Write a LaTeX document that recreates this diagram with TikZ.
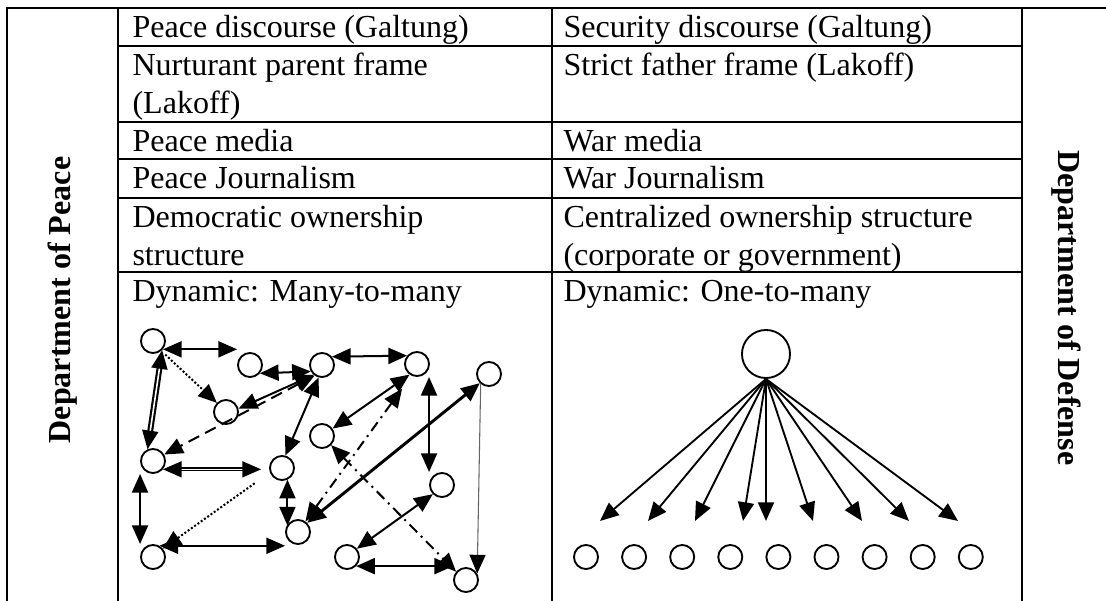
\documentclass[tikz,border=0pt]{standalone}
\usepackage{fontspec}
\setmainfont{Liberation Serif}
\usepackage{tikz}
\usetikzlibrary{arrows.meta,positioning,calc}
\newcommand{\cellfont}{\fontsize{12}{14.2}\selectfont}
\newcommand{\peaceDiscourse}{Peace discourse (Galtung)}
\newcommand{\securityDiscourse}{Security discourse (Galtung)}
\newcommand{\peaceFrame}{Nurturant parent frame\\(Lakoff)}
\newcommand{\securityFrame}{Strict father frame (Lakoff)}
\newcommand{\peaceMedia}{Peace media}
\newcommand{\securityMedia}{War media}
\newcommand{\peaceJournalism}{Peace Journalism}
\newcommand{\securityJournalism}{War Journalism}
\newcommand{\peaceOwnership}{Democratic ownership\\structure}
\newcommand{\securityOwnership}{Centralized ownership structure\\(corporate or government)}
\newcommand{\peaceDynamic}{Dynamic: Many-to-many}
\newcommand{\securityDynamic}{Dynamic: One-to-many}
\tikzset{
    tablecell/.style={anchor=base west, align=left, inner sep=0pt, font=\cellfont},
    tableside/.style={font=\cellfont\bfseries, anchor=center, inner sep=0pt},
    tablerule/.style={line width=0.75pt},
    netnode/.style={circle, draw, line width=0.7pt, minimum size=9pt, inner sep=0pt},
    nethub/.style={netnode, minimum size=18pt},
    netone/.style={line width=0.75pt, -{Triangle[length=7pt,width=6pt]}},
    nettwo/.style={line width=0.75pt,
        {Triangle[length=7pt,width=6pt]}-{Triangle[length=7pt,width=6pt]}},
    netdouble/.style={nettwo, double, line width=0.6pt, double distance=0.6pt},
    netdashed/.style={dash pattern=on 4.5pt off 2.5pt},
    netdashdot/.style={dash pattern=on 4pt off 2pt on 0.75pt off 2pt},
    netdotted/.style={dash pattern=on 0.75pt off 0.75pt},
}

\begin{document}
\begin{tikzpicture}[x=0.3745pt, y=-0.3745pt]
    \useasboundingbox (0,0) rectangle (1106,601);

    % --- Table rules --------------------------------------------------------------
    \draw[tablerule] (7,601) -- (7,8) -- (1106,8);
    \foreach \x in {118,552,1022} \draw[tablerule] (\x,8) -- (\x,601);
    \foreach \y in {46,122,159,198,272} \draw[tablerule] (118,\y) -- (1022,\y);

    % --- Side labels --------------------------------------------------------------
    \node[tableside, rotate=90] (peaceside) at (62.5,300) {Department of Peace};
    \node[tableside, rotate=-90] (defenseside) at (1066,308) {Department of Defense};

    % --- Peace column (multi-line cells sit on their last line) -------------------
    \node[tablecell] (peacediscourse) at (132,37.5) {\peaceDiscourse};
    \node[tablecell] (peaceframe) at (132,113.5) {\peaceFrame};
    \node[tablecell] (peacemedia) at (132,151.5) {\peaceMedia};
    \node[tablecell] (peacejournalism) at (132,188.5) {\peaceJournalism};
    \node[tablecell] (peaceownership) at (132,265.5) {\peaceOwnership};
    \node[tablecell] (peacedynamic) at (132,301.5) {\peaceDynamic};

    % --- Security column ----------------------------------------------------------
    \node[tablecell] (securitydiscourse) at (563,37.5) {\securityDiscourse};
    \node[tablecell] (securityframe) at (563,75.5) {\securityFrame};
    \node[tablecell] (securitymedia) at (563,151.5) {\securityMedia};
    \node[tablecell] (securityjournalism) at (563,188.5) {\securityJournalism};
    \node[tablecell] (securityownership) at (563,265.5) {\securityOwnership};
    \node[tablecell] (securitydynamic) at (563,301.5) {\securityDynamic};

    % --- Many-to-many network -----------------------------------------------------
    \node[netnode] (pa) at (153,341) {};
    \node[netnode] (pb) at (250,365) {};
    \node[netnode] (pc) at (322,365) {};
    \node[netnode] (pd) at (417,364) {};
    \node[netnode] (pe) at (489,374) {};
    \node[netnode] (pf) at (226,412) {};
    \node[netnode] (pg) at (322,436) {};
    \node[netnode] (ph) at (153,461) {};
    \node[netnode] (pi) at (282,468) {};
    \node[netnode] (pj) at (442,485) {};
    \node[netnode] (pk) at (298,532) {};
    \node[netnode] (pl) at (153,557) {};
    \node[netnode] (pm) at (347,557) {};
    \node[netnode] (pn) at (466,580) {};

    \draw[nettwo] (pa.-40) -- (pa.-40 -| pb.west);
    \draw[netone, netdotted, shorten <=2pt] (pa.-50) -- (pf.135);
    \draw[netdouble, line width=0.8pt] (pa.-45) -- (ph.115);
    \draw[nettwo] (pb.-40) -- (pc.-150);
    \draw[nettwo] (pc.-130) -- (pf.15);
    \draw[nettwo, netdashed] (pc.-125) -- (ph.30);
    \draw[nettwo] (pc.-105) -- (pi.75);
    \draw[nettwo] (pc.40) -- (pd.140);
    \draw[nettwo] (pd.-125) -- (pg.35);
    \draw[nettwo] (pd.south -| pj.west) -- (pj.west |- pj.north);
    \draw[nettwo, netdashdot, shorten <=6pt] (pd.-115) -- (pk.55);
    \draw[nettwo, line width=1.1pt] (pe.-135) -- (pk.45);
    \draw[line width=0.4pt, draw=black!60,
        -{Triangle[length=7pt,width=6pt,color=black]}] (pe.-130) -- (pn.30);
    \draw[nettwo, netdashdot] (pg.-45) -- (pn.140);
    \draw[nettwo] (pj.-135) -- (pm.40);
    \draw[nettwo] (pm.-45) -- (pm.-45 -| pn.west);
    \draw[netdouble, line width=0.5pt, shorten >=3pt] (ph.-40) -- (ph.-40 -| pi.west);
    \draw[netone, netdotted, shorten <=7pt] (pi.-160) -- (pl.40);
    \draw[nettwo] (ph.west |- ph.south) -- (ph.west |- pl.north);
    \draw[nettwo] (pl.60) -- (pl.60 -| pk.west);
    \draw[nettwo] (pi.-65) -- (pi.-65 |- pk.150);

    % --- One-to-many network ------------------------------------------------------
    \node[nethub] (source) at (766,354) {};
    \foreach \i/\tx in {1/600,2/648,3/695,4/743,5/766,6/813,7/862,8/909,9/958} {
        \node[netnode] (receiver\i) at ({586+48.1*(\i-1)},557) {};
        \coordinate (tip\i) at (\tx,521);
        \draw[netone, line width=0.7pt] (source.south) -- (tip\i);
    }

\end{tikzpicture}
\end{document}
